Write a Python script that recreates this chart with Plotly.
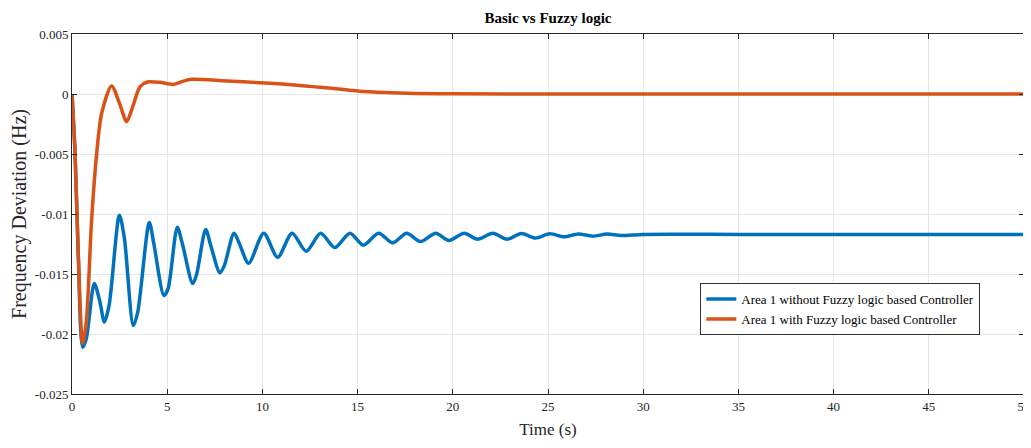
import plotly.graph_objects as go

# Area 1 without fuzzy controller (blue) - read extrema/points from picture
t_blue = [0, 0.16, 0.33, 0.56, 0.75, 1.17, 1.45, 1.70, 1.95, 2.49, 2.75, 3.22, 3.45, 4.06, 4.3, 4.83, 5.05,
          5.53, 5.8, 6.34, 6.55, 7.02, 7.3, 7.77, 8.0, 8.51, 8.8, 9.28, 10.07, 10.8, 11.56, 12.3, 13.06, 13.8,
          14.6, 15.3, 16.1, 16.84, 17.58, 18.3, 19.1, 19.8, 20.6, 21.3, 22.1, 22.85, 23.6, 24.35, 25.1,
          25.85, 26.6, 27.35, 28.1, 28.85, 30, 35, 40, 45, 50]
y_blue = [0, -0.0049, -0.0135, -0.0211, -0.0204, -0.0158, -0.0172, -0.0190, -0.0176, -0.0101, -0.0120, -0.0193,
          -0.0182, -0.0107, -0.0125, -0.0168, -0.0162, -0.0111, -0.0125, -0.0158, -0.0150, -0.0113, -0.0127,
          -0.0149, -0.0143, -0.0116, -0.0125, -0.0141, -0.0116, -0.0136, -0.0116, -0.0131, -0.0116, -0.0128,
          -0.0116, -0.0126, -0.0116, -0.0124, -0.0116, -0.0123, -0.0116, -0.0122, -0.0116, -0.0121, -0.0116,
          -0.0121, -0.01163, -0.0120, -0.01165, -0.0119, -0.01166, -0.01185, -0.01167, -0.0118, -0.0117,
          -0.0117, -0.0117, -0.0117, -0.0117]

# Area 1 with fuzzy controller (orange)
t_orange = [0, 0.16, 0.33, 0.56, 0.75, 1.03, 1.3, 1.56, 2.08, 2.5, 2.87, 3.2, 3.57, 3.96, 4.62, 5.32, 5.8,
            6.29, 8.12, 9.87, 11.5, 13.03, 14.0, 15.0, 16.5, 18.0, 20.0, 25, 30, 40, 50]
y_orange = [0, -0.0049, -0.0133, -0.0208, -0.0190, -0.0105, -0.0049, -0.0016, 0.00067, -0.0008, -0.0023,
            -0.0010, 0.0006, 0.0010, 0.00097, 0.0008, 0.00105, 0.00122, 0.00108, 0.00094, 0.00078, 0.00056,
            0.00042, 0.00025, 0.00012, 0.00005, 0.00002, 0, 0, 0, 0]

x_ticks = [0, 5, 10, 15, 20, 25, 30, 35, 40, 45, 50]
y_ticks = [0.005, 0, -0.005, -0.01, -0.015, -0.02, -0.025]
y_tick_text = ["0.005", "0", "-0.005", "-0.01", "-0.015", "-0.02", "-0.025"]

font = "Liberation Serif"

fig = go.Figure()
fig.add_trace(go.Scatter(x=t_blue, y=y_blue, mode="lines", name="Area 1 without Fuzzy logic based Controller",
                         line=dict(color="#0072BD", width=3.5, shape="spline", smoothing=0.8)))
fig.add_trace(go.Scatter(x=t_orange, y=y_orange, mode="lines", name="Area 1 with Fuzzy logic based Controller",
                         line=dict(color="#D95319", width=3.5, shape="spline", smoothing=0.8)))

fig.update_layout(
    width=1023, height=440,
    margin=dict(l=64, r=7, t=26, b=54, autoexpand=False),
    paper_bgcolor="white", plot_bgcolor="white",
    font=dict(family=font, size=13, color="#262626"),
    title=dict(text="<b>Basic vs Fuzzy logic</b>", x=0.5, xanchor="center", xref="paper",
               y=0.977, yanchor="middle", font=dict(family=font, size=15, color="black")),
    showlegend=True,
    legend=dict(x=0.66, y=0.308, xanchor="left", yanchor="top", bgcolor="white",
                bordercolor="#333333", borderwidth=1, font=dict(family=font, size=13, color="black"),
                tracegroupgap=0, itemwidth=30),
)
fig.update_xaxes(range=[0, 50], tickvals=x_ticks, showgrid=True, gridcolor="#E6E6E6", zeroline=False,
                 showline=True, linecolor="#262626", linewidth=1, mirror="ticks", ticks="inside",
                 ticklen=5, tickcolor="#262626", automargin=False,
                 title=dict(text="Time (s)", font=dict(family=font, size=17), standoff=10))
fig.update_yaxes(range=[-0.025, 0.005], tickvals=y_ticks, ticktext=y_tick_text, showgrid=True,
                 gridcolor="#E6E6E6", zeroline=False, showline=True, linecolor="#262626", linewidth=1,
                 mirror="ticks", ticks="inside", ticklen=5, tickcolor="#262626", automargin=False,
                 title=dict(text="Frequency Deviation (Hz)", font=dict(family=font, size=20), standoff=10))

fig.write_html("out.html")
